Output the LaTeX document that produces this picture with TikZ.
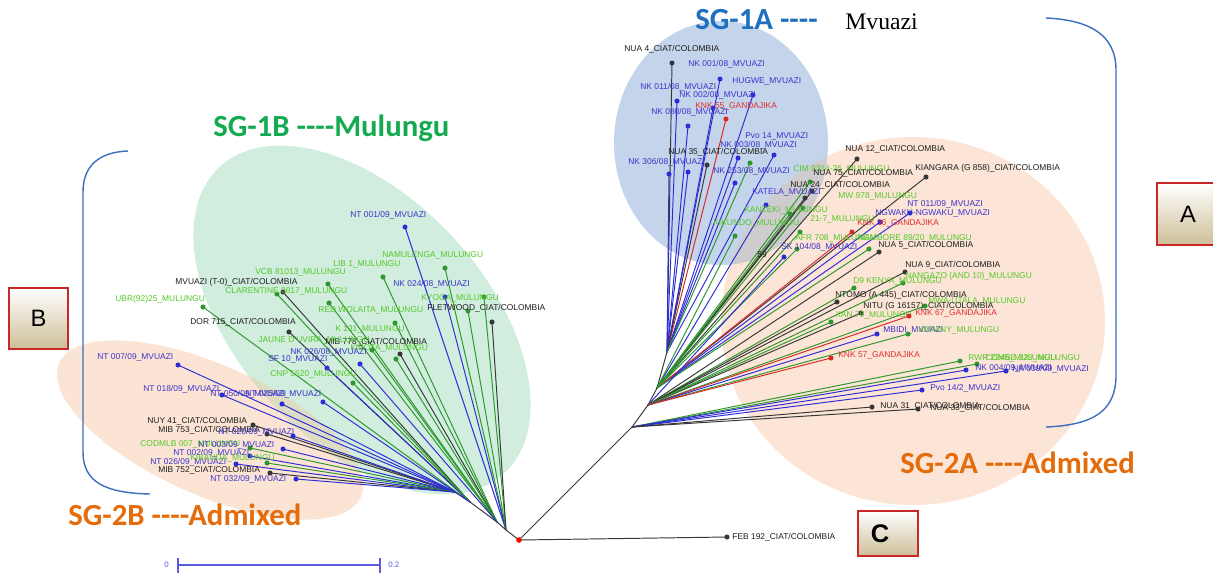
\documentclass[tikz,border=0pt]{standalone}
\usepackage{xcolor}
\usepackage{tikz}
\usepackage{fontspec}
\setmainfont{Liberation Sans}
\newfontfamily\capfont{Carlito}
\newfontfamily\mvfont{Liberation Serif}
\definecolor{c1a}{RGB}{196,213,235}
\definecolor{c2a}{RGB}{252,229,214}
\definecolor{c1b}{RGB}{208,237,222}
\definecolor{c2b}{RGB}{251,228,212}
\definecolor{ov1}{RGB}{206,204,206}
\definecolor{ov2}{RGB}{222,220,195}
\definecolor{mvline}{RGB}{45,45,215}
\definecolor{mvtext}{RGB}{60,50,205}
\definecolor{mlline}{RGB}{45,150,45}
\definecolor{mltext}{RGB}{85,200,40}
\definecolor{ciline}{RGB}{55,55,55}
\definecolor{citext}{RGB}{30,30,30}
\definecolor{gdline}{RGB}{220,40,40}
\definecolor{gdtext}{RGB}{225,45,45}
\definecolor{t1a}{RGB}{31,112,192}
\definecolor{t1b}{RGB}{20,170,80}
\definecolor{t2x}{RGB}{228,108,10}
\definecolor{brk}{RGB}{60,110,190}
\definecolor{boxred}{RGB}{200,40,40}
\definecolor{boxtan}{RGB}{205,190,152}
\definecolor{sbar}{RGB}{90,90,220}

\pgfdeclarelayer{bg}
\pgfdeclarelayer{lines}
\pgfsetlayers{bg,lines,main}

\tikzset{
  branch/.style={line width=0.55pt},
  tiplabel/.style={inner sep=0pt, anchor=west, font=\fontsize{4.8}{5}\selectfont},
  grouptitle/.style={inner sep=0pt, anchor=base west, font=\capfont\bfseries\fontsize{17.5}{20}\selectfont},
  letterbox/.style={draw=boxred, line width=0.8pt, top color=white, bottom color=boxtan},
  bracket/.style={draw=brk, line width=0.8pt},
  scalebar/.style={draw=sbar, line width=0.8pt},
}

% name, x, y, parent, group, text, label x, label y
\newcommand{\taxon}[8]{%
  \coordinate (#1) at (#2,-#3);
  \begin{pgfonlayer}{lines}\draw[branch, #5line] (#4) -- (#1);\end{pgfonlayer}
  \fill[#5line] (#1) circle (1.45pt);
  \node[tiplabel, text=#5text] (#1t) at (#7,-#8) {#6};}

\begin{document}
\begin{tikzpicture}[x=0.02cm, y=0.02cm]
\useasboundingbox (0,0) rectangle (1213,-579);

\begin{pgfonlayer}{bg}
  \fill[c2a] (913,-321) ellipse [x radius=192, y radius=184];
  \fill[c1a] (721,-143) ellipse [x radius=107, y radius=122];
  \begin{scope}
    \clip (721,-143) ellipse [x radius=107, y radius=122];
    \fill[ov1] (913,-321) ellipse [x radius=192, y radius=184];
  \end{scope}
  \fill[c1b, rotate around={-47:(362,-320)}] (362,-320) ellipse [x radius=209, y radius=123];
  \fill[c2b, rotate around={-24:(210,-430)}] (210,-430) ellipse [x radius=165, y radius=65];
  \begin{scope}
    \clip[rotate around={-47:(362,-320)}] (362,-320) ellipse [x radius=209, y radius=123];
    \fill[ov2, rotate around={-24:(210,-430)}] (210,-430) ellipse [x radius=165, y radius=65];
  \end{scope}
\end{pgfonlayer}

\draw[bracket] (128,-151) .. controls (100,-152) and (83,-165) .. (83,-192) -- (83,-452) .. controls (83,-482) and (105,-493) .. (150,-494);
\draw[bracket] (1046,-18) .. controls (1090,-20) and (1116,-35) .. (1116,-70) -- (1116,-375) .. controls (1116,-410) and (1095,-425) .. (1046,-427);

\node[grouptitle, text=t1a] (sg1a) at (695,-29) {SG-1A ----};
\node[inner sep=0pt, anchor=base west, font=\mvfont\fontsize{13.5}{15}\selectfont] (mvz) at (845,-29) {Mvuazi};
\node[grouptitle, text=t1b] (sg1b) at (213,-136) {SG-1B ----Mulungu};
\node[grouptitle, text=t2x] (sg2a) at (900,-473) {SG-2A ----Admixed};
\node[grouptitle, text=t2x] (sg2b) at (68,-525) {SG-2B ----Admixed};

\node[letterbox, minimum width=1.24cm, minimum height=1.24cm] (boxA) at (1188,-214) {};
\node[font=\fontsize{13.5}{15}\selectfont] at (boxA.center) {A};
\node[letterbox, minimum width=1.18cm, minimum height=1.22cm] (boxB) at (38.5,-318.5) {};
\node[font=\fontsize{13.5}{15}\selectfont] at (boxB.center) {B};
\node[letterbox, minimum width=1.2cm, minimum height=0.9cm] (boxC) at (888,-533.5) {};
\node[font=\bfseries\fontsize{14.5}{16}\selectfont] at ([xshift=-0.16cm]boxC.center) {C};

\coordinate (root) at (519,-540);
\coordinate (hR) at (632,-427);
\coordinate (hM) at (648,-405);
\coordinate (hU) at (657,-388);
\coordinate (hA) at (667,-352);
\coordinate (l1) at (506,-530);
\coordinate (l2) at (497,-522);
\coordinate (l3) at (470,-502);
\coordinate (l4) at (455,-492);
\begin{pgfonlayer}{lines}
  \draw[branch, ciline] (root) -- (hR) -- (hM) -- (hU) -- (hA);
  \draw[branch, ciline] (root) -- (l1) -- (l2) -- (l3) -- (l4);
\end{pgfonlayer}

\taxon{feb}{727}{537}{root}{ci}{FEB 192\_CIAT/COLOMBIA}{732}{537}

\taxon{a1}{672}{63}{hA}{ci}{NUA 4\_CIAT/COLOMBIA}{624}{49}
\taxon{a2}{720}{79}{hA}{mv}{NK 001/08\_MVUAZI}{688}{64}
\taxon{a3}{753}{95}{hA}{mv}{HUGWE\_MVUAZI}{732}{81}
\taxon{a4}{677}{101}{hA}{mv}{NK 011/08\_MVUAZI}{640}{87}
\taxon{a5}{713}{108}{hA}{mv}{NK 002/08\_MVUAZI}{679}{95}
\taxon{a6}{726}{119}{hA}{gd}{KNK 55\_GANDAJIKA}{695}{106}
\taxon{a7}{688}{126}{hA}{mv}{NK 080/08\_MVUAZI}{651}{112}
\taxon{a8}{738}{158}{hA}{mv}{Pvo 14\_MVUAZI}{745}{136}
\taxon{a9}{774}{155}{hA}{mv}{NK 003/08\_MVUAZI}{720}{145}
\taxon{a10}{707}{165}{hA}{ci}{NUA 35\_CIAT/COLOMBIA}{668}{152}
\taxon{a11}{669}{174}{hA}{mv}{NK 306/08\_MVUAZI}{628}{162}
\taxon{a12}{735}{183}{hA}{mv}{NK 253/08\_MVUAZI}{713}{171}
\taxon{a13}{688}{172}{hA}{mv}{}{688}{172}
\taxon{a14}{750}{163}{hA}{ml}{}{750}{163}

\taxon{b1}{857}{159}{hU}{ci}{NUA 12\_CIAT/COLOMBIA}{845}{149}
\taxon{b2}{926}{177}{hU}{ci}{KIANGARA (G 858)\_CIAT/COLOMBIA}{915}{168}
\taxon{b3}{810}{182}{hU}{ml}{CIM 9314-35\_MULUNGU}{793}{169}
\taxon{b4}{812}{191}{hU}{ci}{NUA 75\_CIAT/COLOMBIA}{813}{173}
\taxon{b5}{805}{198}{hU}{ci}{NUA 24\_CIAT/COLOMBIA}{790}{185}
\taxon{b6}{803}{208}{hU}{ml}{MW 978\_MULUNGU}{838}{196}
\taxon{b7}{766}{205}{hU}{mv}{KATELA\_MVUAZI}{752}{192}
\taxon{b8}{790}{214}{hU}{ml}{KANZEKI\_MULUNGU}{744}{210}
\taxon{b9}{910}{213}{hU}{mv}{NT 011/09\_MVUAZI}{907}{204}
\taxon{b10}{880}{222}{hU}{mv}{NGWAKU-NGWAKU\_MVUAZI}{875}{213}
\taxon{b11}{852}{232}{hU}{gd}{KNK 36\_GANDAJIKA}{857}{223}
\taxon{b12}{800}{232}{hU}{ml}{21-7\_MULUNGU}{810}{219}
\taxon{b13}{735}{236}{hU}{ml}{KIKUNDO\_MULUNGU}{713}{223}
\taxon{b14}{797}{249}{hU}{ml}{AFR 708\_MULUNGU}{795}{238}
\taxon{b15}{869}{249}{hU}{ml}{NAMBORE 89/20\_MULUNGU}{858}{238}
\taxon{b16}{784}{257}{hM}{mv}{SK 104/08\_MVUAZI}{781}{247}
\taxon{b17}{879}{252}{hM}{ci}{NUA 5\_CIAT/COLOMBIA}{878}{245}
\taxon{b18}{905}{272}{hM}{ci}{NUA 9\_CIAT/COLOMBIA}{905}{265}
\taxon{b19}{903}{283}{hM}{ml}{NANGAZO (AND 10)\_MULUNGU}{905}{276}
\taxon{b20}{854}{288}{hM}{ml}{D9 KENYA\_MULUNGU}{853}{281}
\taxon{b21}{925}{306}{hM}{ml}{MWA-UTALA\_MULUNGU}{928}{301}
\taxon{b22}{837}{302}{hM}{ci}{NTOMO (A 445)\_CIAT/COLOMBIA}{835}{295}
\taxon{b23}{861}{313}{hM}{ci}{NITU (G 16157)\_CIAT/COLOMBIA}{863}{306}
\taxon{b24}{831}{322}{hM}{ml}{XAN 76\_MULUNGU}{835}{315}
\taxon{b25}{909}{316}{hM}{gd}{KNK 67\_GANDAJIKA}{915}{313}
\taxon{b26}{877}{334}{hM}{mv}{MBIDI\_MVUAZI}{883}{330}
\taxon{b27}{908}{334}{hM}{ml}{KAPANY\_MULUNGU}{918}{330}
\taxon{b28}{831}{358}{hM}{gd}{KNK 57\_GANDAJIKA}{838}{355}
\taxon{b29}{960}{361}{hR}{ml}{RWR 2245\_MULUNGU}{968}{358}
\taxon{b30}{977}{364}{hR}{ml}{COMBE 329\_MULUNGU}{985}{358}
\taxon{b31}{966}{370}{hR}{mv}{NK 004/09\_MVUAZI}{975}{368}
\taxon{b32}{1006}{371}{hR}{mv}{NK 009/09\_MVUAZI}{1012}{369}
\taxon{b33}{922}{390}{hR}{mv}{Pvo 14/2\_MVUAZI}{930}{388}
\taxon{b34}{872}{407}{hR}{ci}{NUA 31\_CIAT/COLOMBIA}{880}{406}
\taxon{b35}{918}{409}{hR}{ci}{NUA 33\_CIAT/COLOMBIA}{930}{408}
\node[tiplabel, text=citext] (boot) at (757,-255) {59};

\taxon{c1}{405}{227}{l1}{mv}{NT 001/09\_MVUAZI}{350}{215}
\taxon{c2}{445}{268}{l1}{ml}{NAMULENGA\_MULUNGU}{382}{255}
\taxon{c3}{383}{277}{l2}{ml}{LIB 1\_MULUNGU}{333}{264}
\taxon{c4}{328}{284}{l2}{ml}{VCB 81013\_MULUNGU}{255}{272}
\taxon{c5}{283}{292}{l3}{ci}{MVUAZI (T-0)\_CIAT/COLOMBIA}{175}{282}
\taxon{c6}{277}{294}{l3}{ml}{CLARENTINE 0817\_MULUNGU}{225}{291}
\taxon{c7}{203}{307}{l3}{ml}{UBR(92)25\_MULUNGU}{115}{299}
\taxon{c8}{445}{297}{l1}{mv}{NK 024/08\_MVUAZI}{393}{284}
\taxon{c9}{484}{297}{l1}{ml}{KYOGA\_MULUNGU}{421}{298}
\taxon{c10}{468}{311}{l1}{ml}{}{468}{311}
\taxon{c11}{492}{322}{l1}{ci}{FLETWOOD\_CIAT/COLOMBIA}{427}{308}
\taxon{c12}{329}{303}{l2}{ml}{RED WOLAITA\_MULUNGU}{318}{310}
\taxon{c13}{289}{332}{l3}{ci}{DOR 715\_CIAT/COLOMBIA}{190}{322}
\taxon{c14}{395}{323}{l2}{ml}{K 131\_MULUNGU}{335}{329}
\taxon{c15}{400}{354}{l2}{ci}{MIB 778\_CIAT/COLOMBIA}{325}{342}
\taxon{c16}{396}{359}{l2}{ml}{KIBOTA\_MULUNGU}{350}{348}
\taxon{c17}{372}{350}{l2}{ml}{JAUNE D'UVIRA\_MULUNGU}{258}{340}
\taxon{c18}{360}{364}{l2}{mv}{NK 026/08\_MVUAZI}{290}{352}
\taxon{c19}{327}{368}{l3}{mv}{SF 10\_MVUAZI}{268}{359}
\taxon{c20}{353}{383}{l3}{ml}{CNP 5520\_MULUNGU}{270}{374}

\taxon{d1}{178}{365}{l4}{mv}{NT 007/09\_MVUAZI}{97}{357}
\taxon{d2}{222}{395}{l4}{mv}{NT 018/09\_MVUAZI}{143}{389}
\taxon{d3}{282}{404}{l4}{mv}{NT 050/09\_MVUAZI}{210}{394}
\taxon{d4}{323}{402}{l3}{mv}{NT 025/09\_MVUAZI}{245}{394}
\taxon{d5}{253}{425}{l4}{ci}{NUY 41\_CIAT/COLOMBIA}{147}{421}
\taxon{d6}{267}{434}{l4}{ci}{MIB 753\_CIAT/COLOMBIA}{158}{430}
\taxon{d7}{293}{436}{l4}{mv}{NT 020/09\_MVUAZI}{218}{432}
\taxon{d8}{250}{448}{l4}{ml}{CODMLB 007\_MULUNGU}{140}{444}
\taxon{d9}{283}{449}{l4}{mv}{NT 003/09\_MVUAZI}{198}{445}
\taxon{d10}{250}{456}{l4}{mv}{NT 002/09\_MVUAZI}{173}{453}
\taxon{d11}{236}{464}{l4}{mv}{NT 026/09\_MVUAZI}{150}{462}
\taxon{d12}{267}{463}{l4}{ml}{KIBANDA\_MULUNGU}{190}{458}
\taxon{d13}{270}{473}{l4}{ci}{MIB 752\_CIAT/COLOMBIA}{158}{470}
\taxon{d14}{296}{479}{l4}{mv}{NT 032/09\_MVUAZI}{210}{479}

\fill[red] (root) circle (1.6pt);

\coordinate (sb0) at (178,-565);
\coordinate (sb1) at (380,-565);
\draw[scalebar] (sb0) -- (sb1);
\draw[scalebar] (178,-557.5) -- (178,-572.5);
\draw[scalebar] (380,-557.5) -- (380,-572.5);
\node[inner sep=0pt, anchor=east, text=sbar, font=\fontsize{4.5}{5}\selectfont] (sbl0) at (169,-565) {0};
\node[inner sep=0pt, anchor=west, text=sbar, font=\fontsize{4.5}{5}\selectfont] (sbl1) at (388,-565) {0.2};
\end{tikzpicture}
\end{document}
